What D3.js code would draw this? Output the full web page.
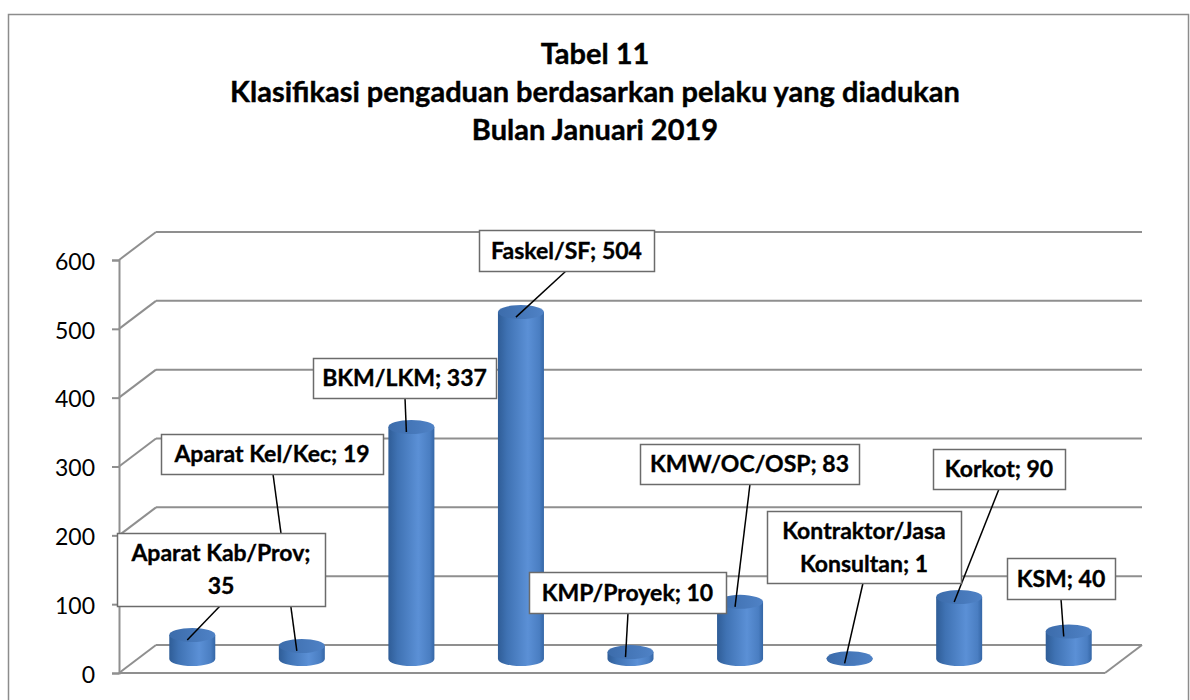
<!DOCTYPE html>
<html>
<head>
<meta charset="utf-8">
<script src="https://cdn.jsdelivr.net/npm/d3@7"></script>
<style>
  body { margin: 0; background: #fff; }
  svg { display: block; }
  text { font-family: Lato, "Open Sans", sans-serif; }
</style>
</head>
<body>
<div class="chart"></div>
<script>
var svgWidth = 1190;
var svgHeight = 700;

// data
var categories = ["Aparat Kab/Prov", "Aparat Kel/Kec", "BKM/LKM", "Faskel/SF", "KMP/Proyek",
  "KMW/OC/OSP", "Kontraktor/Jasa Konsultan", "Korkot", "KSM"];
var values = [35, 19, 337, 504, 10, 83, 1, 90, 40];
var yTicks = [0, 100, 200, 300, 400, 500, 600];
var titleLines = ["Tabel 11", "Klasifikasi pengaduan berdasarkan pelaku yang diadukan", "Bulan Januari 2019"];

// label text lines (data labels "name; value")
var labelLines = [
  ["Aparat Kab/Prov;", "35"],
  ["Aparat Kel/Kec; 19"],
  ["BKM/LKM; 337"],
  ["Faskel/SF; 504"],
  ["KMP/Proyek; 10"],
  ["KMW/OC/OSP; 83"],
  ["Kontraktor/Jasa", "Konsultan; 1"],
  ["Korkot; 90"],
  ["KSM; 40"]
];
// label box layout: x, y, w, h (pixels) and leader start x
var labelBoxes = [
  [117, 533, 208, 73, 220],
  [161, 434, 222, 40, 273],
  [313, 358, 183, 40, 405],
  [479, 230, 175, 41, 566],
  [529, 572, 197, 41, 628],
  [640, 444, 219, 40, 750],
  [767, 511, 194, 72, 863],
  [933, 449, 132, 40, 999],
  [1007, 558, 108, 41, 1061]
];

// 3d geometry
var depthX = 37, depthY = -28;
var plotLeft = 119, plotRight = 1105;

var svg = d3.select(".chart").append("svg")
  .attr("width", svgWidth)
  .attr("height", svgHeight);

// outer border
svg.append("rect")
  .attr("x", 8.5).attr("y", 14.5)
  .attr("width", 1180).attr("height", 720)
  .attr("fill", "#fff")
  .attr("stroke", "#8c8c8c")
  .attr("stroke-width", 1.5);

// title
svg.append("g").selectAll("text")
  .data(titleLines)
  .enter()
  .append("text")
  .attr("x", 595)
  .attr("y", (d, i) => 64 + i * 38)
  .attr("text-anchor", "middle")
  .attr("font-size", 29)
  .attr("font-weight", "bold")
  .attr("fill", "#000")
  .attr("stroke", "#000")
  .attr("stroke-width", 0.4)
  .text(d => d);

var xScale = d3.scaleBand()
  .domain(categories)
  .range([plotLeft, plotRight]);

var yScale = d3.scaleLinear()
  .domain([0, 600])
  .range([673, 260]);

var gridColor = "#8f8f8f";
var grid = svg.append("g");

// back wall gridlines + side wall diagonals
yTicks.forEach(function(t) {
  var y = yScale(t);
  grid.append("line")
    .attr("x1", plotLeft + depthX).attr("y1", y + depthY)
    .attr("x2", plotRight + depthX).attr("y2", y + depthY)
    .attr("stroke", gridColor).attr("stroke-width", 2);
  grid.append("line")
    .attr("x1", plotLeft).attr("y1", y)
    .attr("x2", plotLeft + depthX).attr("y2", y + depthY)
    .attr("stroke", gridColor).attr("stroke-width", 2);
});

// floor front edge and right diagonal
grid.append("line")
  .attr("x1", plotLeft).attr("y1", yScale(0))
  .attr("x2", plotRight).attr("y2", yScale(0))
  .attr("stroke", gridColor).attr("stroke-width", 2);
grid.append("line")
  .attr("x1", plotRight).attr("y1", yScale(0))
  .attr("x2", plotRight + depthX).attr("y2", yScale(0) + depthY)
  .attr("stroke", gridColor).attr("stroke-width", 2);

// y axis
var leftAxis = d3.axisLeft(yScale).tickValues(yTicks).tickSize(7).tickPadding(17);
var yAxis = svg.append("g")
  .attr("transform", `translate(${plotLeft}, 0)`)
  .call(leftAxis);
yAxis.select(".domain").attr("stroke", gridColor).attr("stroke-width", 2);
yAxis.selectAll(".tick line").attr("stroke", gridColor).attr("stroke-width", 2);
yAxis.selectAll(".tick text")
  .attr("font-family", "Lato, 'Open Sans', sans-serif")
  .attr("font-size", 23)
  .attr("dy", "0.4em")
  .attr("fill", "#000");

// gradients for cylinders
var defs = svg.append("defs");
var bodyGrad = defs.append("linearGradient")
  .attr("id", "cylBody").attr("x1", "0%").attr("x2", "100%").attr("y1", "0%").attr("y2", "0%");
bodyGrad.append("stop").attr("offset", "0%").attr("stop-color", "#2f5d97");
bodyGrad.append("stop").attr("offset", "20%").attr("stop-color", "#3f72b3");
bodyGrad.append("stop").attr("offset", "65%").attr("stop-color", "#5b90d6");
bodyGrad.append("stop").attr("offset", "90%").attr("stop-color", "#4a7ec2");
bodyGrad.append("stop").attr("offset", "100%").attr("stop-color", "#3466a6");
var topGrad = defs.append("linearGradient")
  .attr("id", "cylTop").attr("x1", "0%").attr("x2", "100%").attr("y1", "0%").attr("y2", "0%");
topGrad.append("stop").attr("offset", "0%").attr("stop-color", "#3c6cab");
topGrad.append("stop").attr("offset", "100%").attr("stop-color", "#4f82c6");

var rx = 23, ry = 7;
var cylCx = c => xScale(c) + xScale.bandwidth() / 2 + depthX / 2;
var baseY = yScale(0) + depthY / 2;
var topY = v => yScale(v) + depthY / 2;

var cyl = svg.append("g").selectAll("g")
  .data(categories)
  .enter()
  .append("g");

cyl.append("path")
  .attr("d", function(d, i) {
    var cx = cylCx(d), ty = topY(values[i]);
    return `M${cx - rx},${ty} L${cx - rx},${baseY} A${rx},${ry} 0 0 0 ${cx + rx},${baseY} L${cx + rx},${ty} Z`;
  })
  .attr("fill", "url(#cylBody)");

cyl.append("ellipse")
  .attr("cx", d => cylCx(d))
  .attr("cy", (d, i) => topY(values[i]))
  .attr("rx", rx)
  .attr("ry", ry)
  .attr("fill", "url(#cylTop)");

// leader lines first, so the boxes sit on top of them
svg.append("g").selectAll("line")
  .data(categories)
  .enter()
  .append("line")
  .attr("x1", (d, i) => labelBoxes[i][4])
  .attr("y1", (d, i) => labelBoxes[i][1] + labelBoxes[i][3])
  .attr("x2", d => cylCx(d) - 5)
  .attr("y2", (d, i) => topY(values[i]) + 5)
  .attr("stroke", "#000")
  .attr("stroke-width", 1.5);

// data labels
var labels = svg.append("g").selectAll("g")
  .data(categories)
  .enter()
  .append("g");

labels.append("rect")
  .attr("x", (d, i) => labelBoxes[i][0] + 0.5)
  .attr("y", (d, i) => labelBoxes[i][1] + 0.5)
  .attr("width", (d, i) => labelBoxes[i][2])
  .attr("height", (d, i) => labelBoxes[i][3])
  .attr("fill", "#fff")
  .attr("stroke", "#6b6b6b")
  .attr("stroke-width", 1.5);

labels.each(function(d, i) {
  var b = labelBoxes[i];
  var lines = labelLines[i];
  var g = d3.select(this);
  lines.forEach(function(line, j) {
    var cy = b[1] + b[3] / 2 + (j - (lines.length - 1) / 2) * 33;
    g.append("text")
      .attr("x", b[0] + b[2] / 2)
      .attr("y", cy)
      .attr("dy", "0.36em")
      .attr("text-anchor", "middle")
      .attr("font-size", 23)
      .attr("font-weight", "bold")
      .attr("fill", "#000")
      .attr("stroke", "#000")
      .attr("stroke-width", 0.35)
      .text(line);
  });
});
</script>
</body>
</html>
